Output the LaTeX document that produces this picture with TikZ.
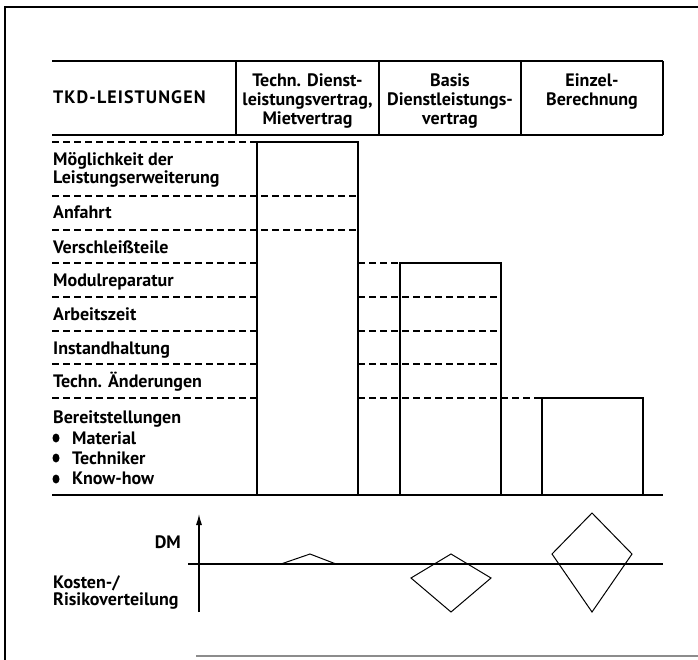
\documentclass[tikz,border=0pt]{standalone}
\usepackage{fontspec}
\setmainfont{PT Sans}
\usepackage{tikz}
\usetikzlibrary{arrows.meta}

\begin{document}
\begin{tikzpicture}[x=1pt, y=-1pt,
        txt/.style={inner sep=0pt, font=\fontsize{18}{19}\selectfont\bfseries},
        rowlabel/.style={txt, anchor=base west, align=left},
        colhead/.style={txt, anchor=base, align=center},
        rowline/.style={line width=1.4pt, dash pattern=on 7pt off 4pt},
        bar/.style={line width=1.6pt},
        rule/.style={line width=2pt},
        risk/.style={line width=1pt}]
        \useasboundingbox (0, 0) rectangle (698, 660);

        % frame
        \draw[line width=2pt] (5, 660) -- (5, 7) -- (698, 7);
        \draw[line width=1.2pt, black!45] (196, 656) -- (698, 656);

        % header
        \draw[rule] (52, 61) -- (663, 61);
        \draw[rule] (52, 135) -- (663, 135);
        \draw[bar] (236, 61) -- (236, 135);
        \draw[bar] (379, 61) -- (379, 135);
        \draw[bar] (521, 61) -- (521, 135);
        \draw[bar] (663, 61) -- (663, 135);

        % (multi-line nodes: base = last line)
        \node[rowlabel] (tkd) at (53, 104) {\addfontfeature{LetterSpace=6}TKD-LEISTUNGEN};
        \node[colhead] (techn) at (307.5, 125) {Techn. Dienst-\\leistungsvertrag,\\Mietvertrag};
        \node[colhead] (basis) at (450, 125) {Basis\\Dienstleistungs-\\vertrag};
        \node[colhead] (einzel) at (592, 106) {Einzel-\\Berechnung};

        % rows
        \foreach \y in {142, 263, 297, 331, 364, 398}
            \draw[rowline] (52, \y) -- (257, \y);
        \foreach \y in {196, 230}
            \draw[rowline] (52, \y) -- (358, \y);
        \draw[rowline] (358, 263) -- (400, 263);
        \foreach \y in {297, 331, 364}
            \draw[rowline] (358, \y) -- (501, \y);
        \draw[rowline] (358, 398) -- (542, 398);

        \node[rowlabel] (moeglich) at (53, 184) {Möglichkeit der\\[-1pt]Leistungserweiterung};
        \node[rowlabel] (anfahrt) at (53, 219) {Anfahrt};
        \node[rowlabel] (verschleiss) at (53, 253) {Verschleißteile};
        \node[rowlabel] (modul) at (53, 286) {Modulreparatur};
        \node[rowlabel] (arbeit) at (53, 320) {Arbeitszeit};
        \node[rowlabel] (instand) at (53, 354) {Instandhaltung};
        \node[rowlabel] (aenderung) at (53, 387) {Techn. Änderungen};
        \node[rowlabel] (bereit) at (53, 423) {Bereitstellungen};
        \node[rowlabel] (bereitlist) at (72, 484) {Material\\[1pt]Techniker\\[1pt]Know-how};
        \foreach \y in {438, 458, 479}
            \fill (56, \y) ellipse (3.5 and 4.5);

        % columns
        \draw[bar] (257, 495) -- (257, 142) -- (358, 142) -- (358, 495);
        \draw[bar] (400, 495) -- (400, 263) -- (501, 263) -- (501, 495);
        \draw[bar] (542, 495) -- (542, 398) -- (643, 398) -- (643, 495);
        \draw[rule] (52, 495) -- (663, 495);

        % cost / risk
        \draw[-{Latex[length=11pt, width=6pt]}, line width=1.2pt] (199, 612) -- (199, 514);
        \draw[rule] (188, 564) -- (663, 564);
        \node[txt, anchor=base east] (dm) at (181, 548) {DM};
        \node[rowlabel] (kosten) at (53, 605) {Kosten-/\\[-2pt]Risikoverteilung};

        \draw[risk] (281, 564) -- (310, 554) -- (336, 564);
        \draw[risk] (451, 554) -- (491, 578) -- (451, 612) -- (411, 578) -- cycle;
        \draw[risk] (592, 513) -- (632, 554) -- (592, 612) -- (552, 554) -- cycle;
\end{tikzpicture}
\end{document}
